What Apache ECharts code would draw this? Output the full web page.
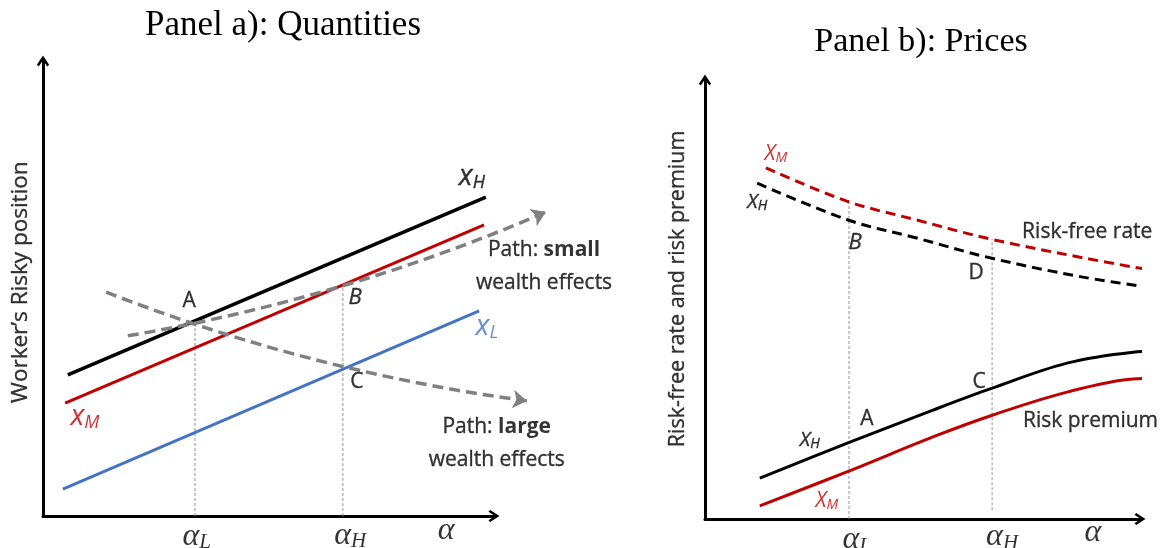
<!DOCTYPE html>
<html>
<head>
<meta charset="utf-8">
<script src="https://cdn.jsdelivr.net/npm/echarts@6/dist/echarts.min.js"></script>
<style>html,body{margin:0;padding:0;background:#fff}#c{width:1168px;height:548px}</style>
</head>
<body>
<div id="c"></div>
<script>
// ---------- Panel a) Quantities (schematic units, x: 0..10, y: 0..10) ----------
const xH_a = [[0.55, 3.10], [9.82, 7.01]];
const xM_a = [[0.49, 2.48], [9.78, 6.40]];
const xL_a = [[0.44, 0.59], [9.67, 4.51]];
const pathSmall = [[1.88, 3.96], [11.15, 6.68]];
const pathLarge = [[1.40, 4.92], [10.73, 2.53]];
const alphaL_a = [[3.37, 0], [3.37, 4.15]];
const alphaH_a = [[6.65, 0], [6.65, 5.05]];

// ---------- Panel b) Prices ----------
const rfM = [[1.40, 8.00], [3.26, 7.24], [4.87, 6.81], [6.55, 6.38], [8.69, 5.95], [10.64, 5.60]];
const rfH = [[1.20, 7.65], [3.29, 6.81], [4.87, 6.40], [6.55, 5.95], [8.69, 5.51], [10.64, 5.22]];
const rpH = [[1.26, 0.93], [3.33, 1.75], [5.24, 2.48], [6.60, 2.98], [8.32, 3.55], [9.84, 3.80], [10.64, 3.83]];
const rpM = [[1.26, 0.30], [3.38, 1.12], [5.24, 1.87], [6.62, 2.37], [8.32, 2.89], [9.84, 3.19], [10.64, 3.21]];
const alphaL_b = [[3.31, 0], [3.31, 7.24]];
const alphaH_b = [[6.60, 0.2], [6.60, 6.38]];

// ---------- Texts ----------
const titleA = 'Panel a): Quantities';
const titleB = 'Panel b): Prices';
const yNameA = 'Worker\u2019s Risky position';
const yNameB = 'Risk-free rate and risk premium';
// annotations: [x, y, rich text]
const notesA = [
  [9.51, 7.45, '{v|x}{s|H}'],
  [0.93, 2.18, '{vr|x}{sr|M}'],
  [9.84, 4.15, '{vb|x}{sb|L}'],
  [3.24, 4.73, '{t|A}'],
  [6.92, 4.79, '{ti|B}'],
  [6.96, 2.95, '{t|C}'],
  [11.11, 5.48, '{t|Path: }{tb|small}\n{t|wealth effects}'],
  [10.06, 1.59, '{t|Path: }{tb|large}\n{t|wealth effects}'],
  [3.41, -0.46, '{a|\u03b1}{as|L}'],
  [6.81, -0.42, '{a|\u03b1}{as|H}'],
  [8.94, -0.31, '{a|\u03b1}']
];
const notesB = [
  [1.63, 8.31, '{Vr|X}{Sr|M}'],
  [1.20, 7.22, '{V|X}{S|H}'],
  [3.45, 6.29, '{ti|B}'],
  [6.23, 5.60, '{t2|D}'],
  [6.30, 3.12, '{t2|C}'],
  [3.72, 2.28, '{t2|A}'],
  [2.41, 1.80, '{V|X}{S|H}'],
  [2.80, 0.41, '{Vr|X}{Sr|M}'],
  [3.49, -0.48, '{a|\u03b1}{as|L}'],
  [6.83, -0.41, '{a|\u03b1}{as|H}'],
  [8.92, -0.30, '{a|\u03b1}']
];
const notesBLeft = [
  [7.29, 6.54, '{t2|Risk-free rate}'],
  [7.31, 2.23, '{t2|Risk premium}']
];

const SANS = '"Open Sans", "Noto Sans", sans-serif';
const SERIF = '"Liberation Serif", "DejaVu Serif", serif';
const RED = '#c00000', BLUE = '#4472c4', GRAY = '#808080';
const ink = {textBorderColor: '#000', textBorderWidth: 0.35};

const rich = {
  t: Object.assign({fontFamily: SANS, fontSize: 21, color: '#000', lineHeight: 33}, ink),
  t2: Object.assign({fontFamily: SANS, fontSize: 21, color: '#000'}, ink),
  tb: {fontFamily: SANS, fontSize: 21, color: '#000', fontWeight: 'bold', lineHeight: 33},
  ti: Object.assign({fontFamily: SANS, fontSize: 22, color: '#000', fontStyle: 'italic'}, ink),
  v: Object.assign({fontFamily: SANS, fontSize: 29, fontStyle: 'italic', color: '#000'}, ink),
  s: Object.assign({fontFamily: SANS, fontSize: 18, fontStyle: 'italic', color: '#000', padding: [12, 0, 0, 0]}, ink),
  vr: {fontFamily: SANS, fontSize: 29, fontStyle: 'italic', color: RED},
  sr: {fontFamily: SANS, fontSize: 18, fontStyle: 'italic', color: RED, padding: [12, 0, 0, 0]},
  vb: {fontFamily: SANS, fontSize: 29, fontStyle: 'italic', color: BLUE},
  sb: {fontFamily: SANS, fontSize: 18, fontStyle: 'italic', color: BLUE, padding: [12, 0, 0, 0]},
  V: Object.assign({fontFamily: SANS, fontSize: 20, fontStyle: 'italic', color: '#000'}, ink),
  S: Object.assign({fontFamily: SANS, fontSize: 14, fontStyle: 'italic', color: '#000', padding: [8, 0, 0, 0]}, ink),
  Vr: {fontFamily: SANS, fontSize: 21, fontStyle: 'italic', color: RED},
  Sr: {fontFamily: SANS, fontSize: 14, fontStyle: 'italic', color: RED, padding: [8, 0, 0, 0]},
  a: {fontFamily: SERIF, fontSize: 32, fontStyle: 'italic', color: '#000'},
  as: {fontFamily: SERIF, fontSize: 21, fontStyle: 'italic', color: '#000', padding: [12, 0, 0, 0]}
};

const chevron = 'path://M5,0 L10,7.6 L8.5,9 L5,3.8 L1.5,9 L0,7.6 Z';
function axis(grid, type) {
  return {
    type: 'value', gridIndex: grid, min: 0, max: 10,
    axisLine: {show: true, symbol: ['none', chevron], symbolSize: [13, 11],
      lineStyle: {color: '#000', width: 3}},
    axisTick: {show: false}, axisLabel: {show: false}, splitLine: {show: false}
  };
}
function line(grid, data, color, width, dash) {
  return {type: 'line', xAxisIndex: grid, yAxisIndex: grid, data: data, showSymbol: false,
    symbol: 'none', smooth: data.length > 2 ? 0.35 : false, clip: false, silent: true,
    lineStyle: {color: color, width: width, type: dash || 'solid'}, z: 3};
}
function guide(grid, data) {
  return {type: 'line', xAxisIndex: grid, yAxisIndex: grid, data: data, showSymbol: false,
    symbol: 'none', clip: false, silent: true,
    lineStyle: {color: '#888', width: 0.9, type: [3, 2]}, z: 2};
}
function pathArrow(data) {
  return {type: 'lines', coordinateSystem: 'cartesian2d', xAxisIndex: 0, yAxisIndex: 0,
    polyline: false, clip: false, silent: true, symbol: ['none', 'arrow'], symbolSize: 14,
    lineStyle: {color: GRAY, width: 3.5, type: [11, 6], curveness: -0.06, opacity: 1},
    data: [{coords: data}], z: 4};
}
function notes(grid, arr, align) {
  return {type: 'scatter', xAxisIndex: grid, yAxisIndex: grid, symbolSize: 0, clip: false, silent: true,
    data: arr.map(n => ({value: [n[0], n[1]], label: {formatter: n[2]}})),
    label: {show: true, position: 'inside', align: align || 'center', verticalAlign: 'middle',
      color: '#000', textBorderWidth: 0, rich: rich},
    z: 6};
}
function yName(grid, x, y, text, size) {
  return {type: 'scatter', xAxisIndex: grid, yAxisIndex: grid, symbolSize: 0, clip: false, silent: true,
    data: [{value: [x, y]}],
    label: {show: true, position: 'inside', rotate: 90, formatter: text, fontFamily: SANS, fontSize: size,
      color: '#000', textBorderColor: '#000', textBorderWidth: 0.35, align: 'center', verticalAlign: 'middle'}, z: 6};
}

const option = {
  animation: false,
  backgroundColor: '#fff',
  graphic: [
    {type: 'text', x: 283, y: 26, style: {text: titleA, font: '35px ' + SERIF, fill: '#000', align: 'center', verticalAlign: 'middle'}},
    {type: 'text', x: 921, y: 42, style: {text: titleB, font: '34px ' + SERIF, fill: '#000', align: 'center', verticalAlign: 'middle'}}
  ],
  grid: [
    {left: 43, top: 61, width: 451, height: 455},
    {left: 705, top: 80, width: 435, height: 439}
  ],
  xAxis: [axis(0), axis(1)],
  yAxis: [axis(0), axis(1)],
  series: [
    guide(0, alphaL_a), guide(0, alphaH_a),
    line(0, xH_a, '#000', 3.5),
    line(0, xM_a, RED, 3),
    line(0, xL_a, BLUE, 3),
    pathArrow(pathSmall), pathArrow(pathLarge),
    notes(0, notesA),
    yName(0, -0.49, 5.14, yNameA, 22.5),
    guide(1, alphaL_b), guide(1, alphaH_b),
    line(1, rfM, RED, 3, [10, 6]),
    line(1, rfH, '#000', 3, [10, 6]),
    line(1, rpH, '#000', 3),
    line(1, rpM, RED, 3),
    notes(1, notesB),
    notes(1, notesBLeft, 'left'),
    yName(1, -0.62, 5.24, yNameB, 21.5)
  ]
};
const chart = echarts.init(document.getElementById('c'));
chart.setOption(option);
</script>
</body>
</html>
